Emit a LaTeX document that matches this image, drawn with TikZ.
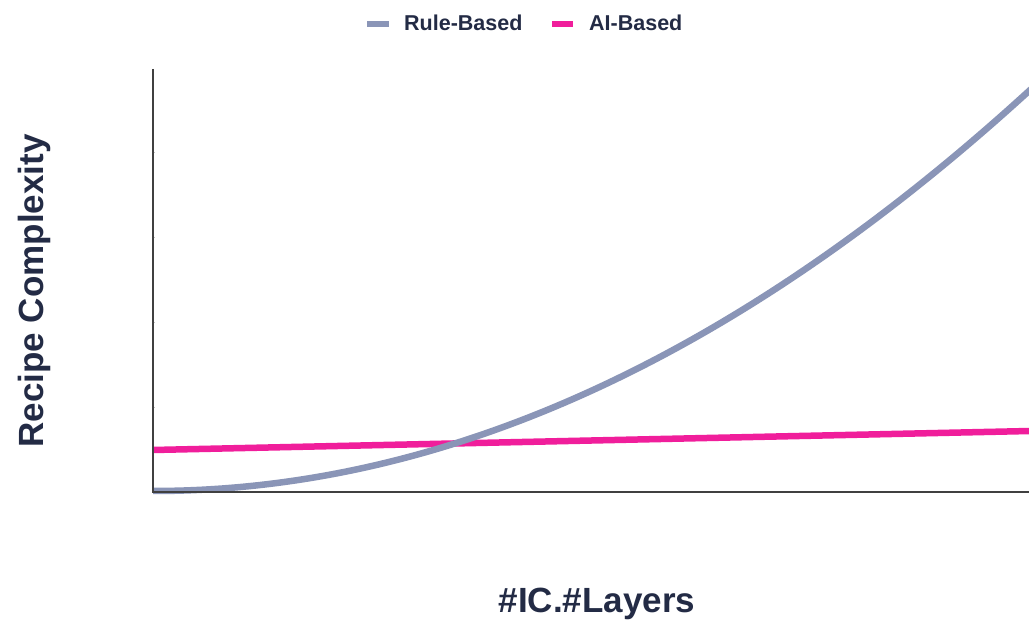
\documentclass[tikz,border=0pt]{standalone}
\usepackage{fontspec}
\setmainfont{Liberation Sans}
\definecolor{navy}{HTML}{232B45}
\definecolor{rulegray}{HTML}{8A95B7}
\definecolor{aipink}{HTML}{F01E9B}
\definecolor{axisgray}{HTML}{404040}
\tikzset{
  lbl/.style={text=navy, font=\fontsize{35pt}{40pt}\selectfont\bfseries, inner sep=0pt},
  leglbl/.style={text=navy, font=\fontsize{21.5pt}{25pt}\selectfont\bfseries, inner sep=0pt, anchor=base west},
  rulecurve/.style={draw=rulegray, line width=6.5pt},
  aicurve/.style={draw=aipink, line width=6.5pt},
  axisline/.style={draw=axisgray, line width=2pt},
  tickmark/.style={draw=gray!50, line width=1pt},
}
\begin{document}
\begin{tikzpicture}[x=1pt, y=1pt]
\useasboundingbox[fill=white] (0,0) rectangle (1029,621);
\clip (0,0) rectangle (1029,621);
% legend
\coordinate (lg1a) at (367,597);
\coordinate (lg1b) at (389,597);
\coordinate (lg2a) at (552,597);
\coordinate (lg2b) at (573,597);
\draw[draw=rulegray, line width=6pt] (lg1a) -- (lg1b);
\draw[draw=aipink, line width=6pt] (lg2a) -- (lg2b);
\node[leglbl] (leg1) at (404,590.5) {Rule-Based};
\node[leglbl] (leg2) at (589,590.5) {AI-Based};
% axis labels
\node[lbl, rotate=90, anchor=base] (ylab) at (43,330) {Recipe Complexity};
\node[lbl, anchor=base] (xlab) at (597,8) {\#IC.\#Layers};
% curves
\coordinate (aiL) at (153,171);
\coordinate (aiR) at (1035,190.1);
\draw[aicurve] (aiL) -- (aiR);
\coordinate (rbS) at (153,130);
\coordinate (rbE) at (1055.3,554.4);
\draw[rulecurve] (rbS) .. controls (453.7,130) and (754.4,271.5) .. (rbE);
% axes
\coordinate (orig) at (153,129);
\coordinate (ytop) at (153,552);
\coordinate (xend) at (1029,129);
\draw[axisline] (ytop) -- (orig) -- (xend);
\foreach \ty in {213,298,383,468} {
  \draw[tickmark] (153.5,\ty) -- (155,\ty);
}
\end{tikzpicture}
\end{document}
